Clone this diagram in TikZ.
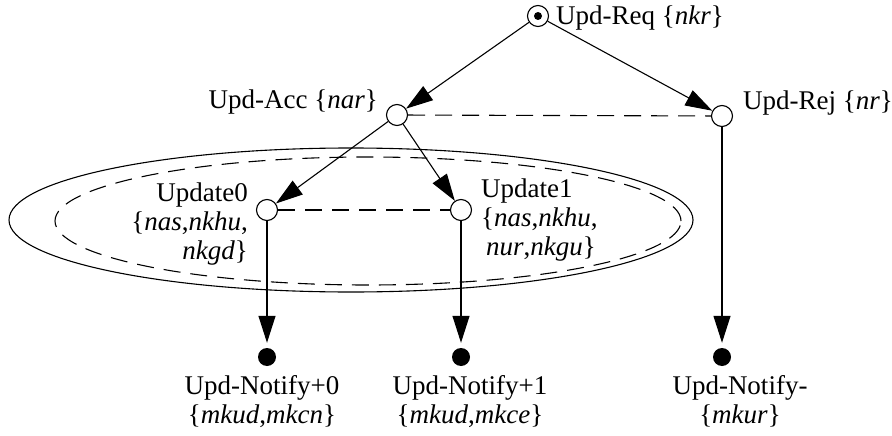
\documentclass[tikz,border=0pt]{standalone}
\usepackage{fontspec}
\setmainfont{Liberation Serif}
\usetikzlibrary{arrows.meta,calc}
\begin{document}
\begin{tikzpicture}[x=1pt,y=-1pt,
  st/.style={circle,draw,line width=1.1pt,minimum size=21pt,inner sep=0pt},
  fin/.style={circle,fill,minimum size=18pt,inner sep=0pt},
  lbl/.style={font=\fontsize{27}{29}\selectfont,inner sep=0pt},
  arr/.style={-{Triangle[length=27pt,width=17pt]},line width=1.1pt},
  dsh/.style={dash pattern=on 17pt off 10pt,line width=1.1pt}]
\useasboundingbox (0,0) rectangle (892,436);
% ellipses
\draw[line width=1.1pt] (351,220) ellipse [x radius=342pt, y radius=72pt];
\draw[dsh] (368,221) ellipse [x radius=313pt, y radius=64pt];
% states
\node[st] (S) at (538,16) {};
\fill (S) circle (4pt);
\node[st] (A) at (397,115) {};
\node[st] (R) at (722,116) {};
\node[st] (U0) at (267,210) {};
\node[st] (U1) at (461,210) {};
\node[fin] (N0) at (267,357) {};
\node[fin] (N1) at (461,357) {};
\node[fin] (NM) at (722,357) {};
% labels
\node[lbl,anchor=base west] (lS) at ($(S)+(18,9)$) {Upd-Req \{\textit{nkr}\}};
\node[lbl,anchor=base east] (lA) at ($(A)+(-19,-6)$) {Upd-Acc \{\textit{nar}\}};
\node[lbl,anchor=base west] (lR) at ($(R)+(21,-6)$) {Upd-Rej \{\textit{nr}\}};
\node[lbl,anchor=base east,align=right] (lU0) at ($(U0)+(-19,49)$) {Update0\\\{\textit{nas},\textit{nkhu},\\\textit{nkgd}\}};
\node[lbl,anchor=base west,align=left] (lU1) at ($(U1)+(20,45)$) {Update1\\\{\textit{nas},\textit{nkhu},\\\hspace{5pt}\textit{nur},\textit{nkgu}\}};
\node[lbl,anchor=base,align=center] (lN0) at ($(N0)+(-5,66)$) {Upd-Notify+0\\\{\textit{mkud},\textit{mkcn}\}};
\node[lbl,anchor=base,align=center] (lN1) at ($(N1)+(9,66)$) {Upd-Notify+1\\\{\textit{mkud},\textit{mkce}\}};
\node[lbl,anchor=base,align=center] (lNM) at ($(NM)+(18,66)$) {Upd-Notify-\\\{\textit{mkur}\}};
% connectors
\draw[arr] (S) -- (A);
\draw[arr] (S) -- (R);
\draw[arr] (A) -- (U0);
\draw[arr] (A) -- (U1);
\draw[arr,shorten >=5pt] (U0) -- (N0);
\draw[arr,shorten >=5pt] (U1) -- (N1);
\draw[arr,shorten >=5pt] (R) -- (NM);
\draw[dsh] (A) -- (R);
\draw[dsh] (U0) -- (U1);
\end{tikzpicture}
\end{document}
